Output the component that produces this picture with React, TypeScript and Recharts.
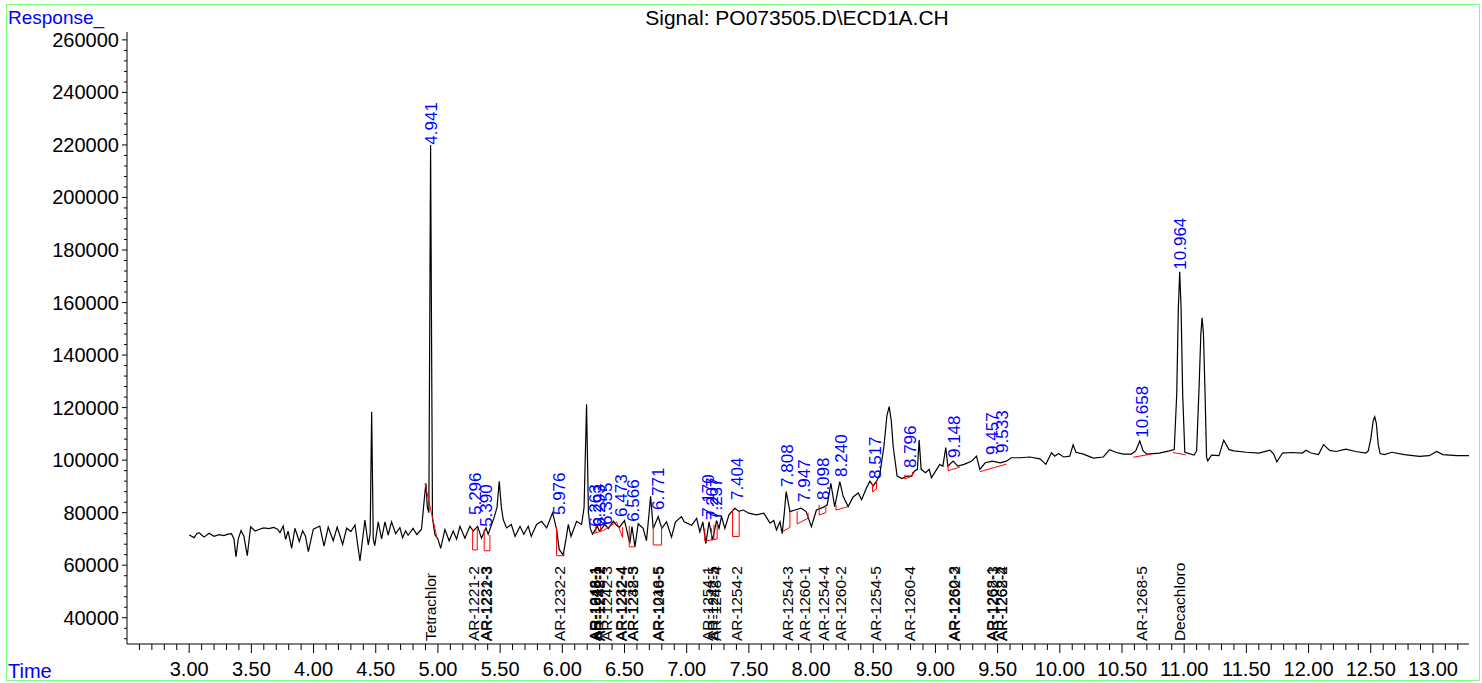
import React from "react";
import { LineChart, Line, XAxis, YAxis, ReferenceDot } from "recharts";

// chromatogram trace, [time (min), response]
const trace: [number, number][] = [
  [3.0, 71500], [3.04, 70500], [3.06, 72000], [3.08, 72400], [3.1, 71500], [3.12, 70700],
  [3.16, 72200], [3.2, 71000], [3.24, 71600], [3.28, 71300], [3.31, 71800], [3.34, 72000],
  [3.36, 70000], [3.376, 63200], [3.395, 70000], [3.417, 73150], [3.44, 71000], [3.467, 63600],
  [3.494, 74650], [3.53, 73000], [3.57, 73800], [3.6, 74200], [3.64, 73900], [3.68, 74400],
  [3.71, 73700], [3.73, 72400], [3.756, 74950], [3.775, 69800], [3.795, 73000], [3.824, 66450],
  [3.85, 74050], [3.885, 69000], [3.912, 73100], [3.935, 71000], [3.958, 65150], [3.998, 73700],
  [4.05, 74900], [4.084, 67300], [4.118, 74500], [4.158, 69300], [4.19, 74500], [4.234, 67900],
  [4.266, 74100], [4.3, 72800], [4.333, 75300], [4.373, 61600], [4.413, 77200], [4.44, 67700],
  [4.455, 72000], [4.467, 118400], [4.48, 70000], [4.492, 67400], [4.52, 76500], [4.547, 70000],
  [4.574, 76500], [4.6, 71500], [4.627, 76500], [4.66, 72000], [4.694, 74300], [4.716, 70500],
  [4.74, 73100], [4.76, 71400], [4.8, 74000], [4.83, 71700], [4.868, 73700], [4.89, 85000],
  [4.903, 91200], [4.915, 82000], [4.927, 80000], [4.941, 220000], [4.956, 78000], [4.976, 71600],
  [5.0, 70000], [5.022, 66400], [5.056, 73600], [5.09, 69300], [5.123, 73000], [5.15, 69900],
  [5.177, 74800], [5.217, 70300], [5.257, 74800], [5.284, 73000], [5.319, 74800], [5.35, 70300],
  [5.386, 74200], [5.404, 71800], [5.45, 77900], [5.475, 82000], [5.493, 91900], [5.51, 82000],
  [5.525, 77400], [5.552, 74200], [5.59, 75500], [5.62, 71000], [5.66, 74800], [5.69, 71800],
  [5.726, 74800], [5.75, 71000], [5.793, 75500], [5.833, 76700], [5.874, 74200], [5.922, 80000],
  [5.954, 73600], [5.975, 66000], [6.007, 63900], [6.03, 70000], [6.048, 75500], [6.07, 71000],
  [6.115, 76700], [6.155, 75500], [6.175, 82000], [6.195, 121300], [6.21, 80000], [6.225, 74000],
  [6.243, 71800], [6.28, 74800], [6.3, 73000], [6.342, 75500], [6.37, 74000], [6.41, 76700],
  [6.44, 75000], [6.46, 74500], [6.5, 77000], [6.543, 68300], [6.56, 74700], [6.584, 67000],
  [6.61, 75800], [6.65, 74000], [6.677, 69300], [6.71, 86200], [6.731, 74000], [6.771, 78500],
  [6.8, 74000], [6.838, 76500], [6.878, 70700], [6.91, 76500], [6.958, 78500], [6.98, 76500],
  [7.04, 75200], [7.08, 77800], [7.106, 72700], [7.13, 76500], [7.154, 68200], [7.18, 76500],
  [7.208, 69500], [7.24, 77000], [7.26, 74000], [7.28, 78500], [7.307, 74000], [7.34, 79200],
  [7.387, 81700], [7.42, 80500], [7.454, 81000], [7.5, 79800], [7.56, 79200], [7.62, 79800],
  [7.67, 76000], [7.7, 77000], [7.722, 73400], [7.75, 76500], [7.768, 72000], [7.785, 80000],
  [7.8, 88000], [7.83, 80400], [7.87, 81000], [7.92, 81700], [7.96, 80400], [8.003, 74700],
  [8.043, 81000], [8.097, 82000], [8.13, 83000], [8.159, 91200], [8.19, 82300], [8.231, 91800],
  [8.258, 86200], [8.298, 82300], [8.338, 86000], [8.38, 87500], [8.406, 84900], [8.446, 89500],
  [8.473, 92000], [8.5, 90200], [8.527, 92000], [8.553, 94600], [8.586, 105300], [8.61, 117000],
  [8.628, 120400], [8.645, 115000], [8.66, 105300], [8.692, 93900], [8.73, 93000], [8.77, 93900],
  [8.808, 93900], [8.83, 95800], [8.855, 96500], [8.869, 107700], [8.885, 96500], [8.92, 95200],
  [8.95, 96500], [8.968, 93300], [9.01, 96500], [9.035, 98400], [9.06, 97700], [9.083, 104800],
  [9.1, 97700], [9.142, 99600], [9.18, 97700], [9.23, 98400], [9.29, 99600], [9.33, 101500],
  [9.357, 96500], [9.4, 99000], [9.46, 99600], [9.52, 99000], [9.57, 99600], [9.61, 100900],
  [9.68, 100900], [9.76, 101200], [9.84, 100500], [9.888, 98400], [9.933, 102800], [9.96, 101500],
  [9.99, 102500], [10.03, 101200], [10.08, 101500], [10.107, 105800], [10.13, 103000], [10.19, 102300],
  [10.27, 100800], [10.35, 101200], [10.4, 104000], [10.45, 103000], [10.51, 102300], [10.576, 102300],
  [10.61, 103500], [10.643, 107300], [10.67, 103500], [10.7, 102300], [10.8, 102700], [10.88, 103500],
  [10.92, 104000], [10.94, 125000], [10.953, 158000], [10.964, 171700], [10.975, 158000], [10.988, 125000],
  [11.005, 103000], [11.08, 101900], [11.1, 103500], [11.12, 128000], [11.134, 148000], [11.144, 154200],
  [11.155, 148000], [11.168, 125000], [11.18, 101000], [11.19, 99700], [11.22, 101900], [11.28, 101700],
  [11.318, 107600], [11.36, 104000], [11.4, 103500], [11.5, 103000], [11.6, 102700], [11.69, 103800],
  [11.72, 102300], [11.745, 99300], [11.79, 102700], [11.87, 102900], [11.95, 102700], [11.98, 103800],
  [12.02, 102700], [12.08, 102100], [12.12, 105900], [12.17, 103700], [12.22, 103300], [12.3, 104200],
  [12.38, 103300], [12.46, 102700], [12.48, 103500], [12.5, 108000], [12.52, 115000], [12.532, 116500],
  [12.545, 114000], [12.56, 106000], [12.575, 102500], [12.61, 102100], [12.67, 103000], [12.77, 102100],
  [12.89, 101400], [12.97, 101700], [13.03, 103300], [13.08, 102100], [13.19, 101700], [13.29, 101700],
];

// integration baselines (red)
const baselines: [number, number][][] = [
  [[4.896, 91000], [4.99, 70900]],
  [[5.279, 73400], [5.279, 65800], [5.316, 65800], [5.316, 74000]],
  [[5.372, 73500], [5.372, 65500], [5.418, 65500], [5.418, 71500]],
  [[5.954, 74600], [5.954, 63600], [6.013, 63600], [6.013, 64500]],
  [[6.244, 72000], [6.329, 73200], [6.437, 76500], [6.485, 70600], [6.485, 74500]],
  [[6.27, 72300], [6.27, 76100]],
  [[6.308, 72800], [6.308, 75800]],
  [[6.538, 75000], [6.538, 67000], [6.584, 67000]],
  [[6.731, 75300], [6.731, 67700], [6.798, 67700], [6.798, 75000]],
  [[7.146, 74000], [7.146, 69200], [7.245, 70000], [7.245, 76000]],
  [[7.2, 69600], [7.2, 74000]],
  [[7.219, 69800], [7.219, 75500]],
  [[7.369, 81000], [7.369, 70900], [7.422, 70900], [7.422, 80500]],
  [[7.771, 72800], [7.83, 74400], [7.83, 80400]],
  [[7.888, 80500], [7.888, 75700], [7.976, 77900], [7.976, 80000]],
  [[8.065, 83000], [8.065, 79100], [8.119, 80000], [8.119, 83000]],
  [[8.2, 83000], [8.2, 81000], [8.298, 82300]],
  [[8.494, 91000], [8.494, 87900], [8.526, 89000], [8.526, 92000]],
  [[8.754, 94500], [8.754, 92800], [8.815, 94000], [8.815, 95500]],
  [[9.102, 98500], [9.102, 96000], [9.196, 97300]],
  [[9.357, 95600], [9.571, 98500]],
  [[10.59, 101100], [10.736, 102300]],
  [[10.911, 102900], [11.013, 102000]],
];

// retention time labels (blue)
const rtTimes = [4.941, 5.296, 5.39, 5.976, 6.263, 6.293, 6.355, 6.473, 6.566, 6.771, 7.17, 7.207, 7.237,
  7.404, 7.808, 7.947, 8.098, 8.24, 8.517, 8.796, 9.148, 9.457, 9.533, 10.658, 10.964];
const rtHeights = [220100, 79100, 74600, 79100, 74600, 74600, 75300, 78400, 76500, 81000, 78400, 77200, 77200,
  84800, 89800, 84100, 84800, 93600, 92800, 97000, 100800, 102000, 102750, 108500, 172500];

// compound names along the bottom
const compoundNames = ["Tetrachlor", "AR-1221-2", "AR-1221-3", "AR-1232-3", "AR-1232-2", "AR-1248-1",
  "AR-1242-1", "AR-1016-1", "AR-1242-2", "AR-1248-2", "AR-1242-3", "AR-1232-4", "AR-1242-4", "AR-1232-5",
  "AR-1248-3", "AR-1016-5", "AR-1248-5", "AR-1254-1", "AR-1242-5", "AR-1248-4", "AR-1254-2", "AR-1254-3",
  "AR-1260-1", "AR-1254-4", "AR-1260-2", "AR-1254-5", "AR-1260-4", "AR-1260-3", "AR-1262-2", "AR-1268-1",
  "AR-1262-3", "AR-1268-2", "AR-1262-4", "AR-1268-5", "Decachloro"];
const compoundTimes = [4.94, 5.29, 5.385, 5.395, 5.975, 6.258, 6.262, 6.265, 6.292, 6.296, 6.355, 6.468,
  6.473, 6.562, 6.566, 6.768, 6.772, 7.168, 7.21, 7.235, 7.404, 7.808, 7.947, 8.098, 8.24, 8.517, 8.796,
  9.145, 9.15, 9.455, 9.46, 9.53, 9.535, 10.658, 10.964];

const xMajor = [3, 3.5, 4, 4.5, 5, 5.5, 6, 6.5, 7, 7.5, 8, 8.5, 9, 9.5, 10, 10.5, 11, 11.5, 12, 12.5, 13];
const yMajor = [40000, 60000, 80000, 100000, 120000, 140000, 160000, 180000, 200000, 220000, 240000, 260000];

const xTicks: number[] = [];
for (let i = 26; i <= 132; i++) xTicks.push(i / 10);
const yTicks: number[] = [];
for (let v = 32000; v <= 260000; v += 4000) yTicks.push(v);

const FONT = "Arial, 'Liberation Sans', sans-serif";
const traceData = trace.map(([t, v]) => ({ t, v }));

const XTick = (props: any) => {
  const { x, y, payload } = props;
  const major = xMajor.some((m) => Math.abs(m - payload.value) < 1e-6);
  return (
    <g>
      <line x1={x} x2={x} y1={y} y2={y + (major ? 9 : 6)} stroke="#000" strokeWidth={1} />
      {major && (
        <text x={x} y={y + 32} textAnchor="middle" fontSize={20} fontFamily={FONT} fill="#000">
          {payload.value.toFixed(2)}
        </text>
      )}
    </g>
  );
};

const YTick = (props: any) => {
  const { x, y, payload } = props;
  const major = yMajor.includes(payload.value);
  return (
    <g>
      <line x1={x - (major ? 5 : 3)} x2={x} y1={y} y2={y} stroke="#000" strokeWidth={1} />
      {major && (
        <text x={x - 8} y={y + 7} textAnchor="end" fontSize={20} fontFamily={FONT} fill="#000">
          {payload.value}
        </text>
      )}
    </g>
  );
};

const vText = (label: string, color: string, size: number) => (p: any) => (
  <text
    x={p.cx}
    y={p.cy}
    dy="0.35em"
    transform={`rotate(-90 ${p.cx} ${p.cy})`}
    textAnchor="start"
    fontSize={size}
    fontFamily={FONT}
    fill={color}
  >
    {label}
  </text>
);

export default function App() {
  return (
    <div style={{ position: "absolute", left: 0, top: 0, width: 1482, height: 683, background: "#fff" }}>
      <LineChart width={1482} height={683} data={traceData} margin={{ top: 32, right: 13, bottom: 9, left: 67 }}>
        <XAxis
          dataKey="t"
          type="number"
          domain={[2.5, 13.29]}
          allowDataOverflow
          ticks={xTicks}
          interval={0}
          tick={<XTick />}
          tickSize={0}
          tickMargin={0}
          tickLine={false}
          axisLine={{ stroke: "#000" }}
          height={30}
        />
        <YAxis
          type="number"
          domain={[30000, 263000]}
          allowDataOverflow
          ticks={yTicks}
          interval={0}
          tick={<YTick />}
          tickSize={0}
          tickMargin={0}
          tickLine={false}
          axisLine={{ stroke: "#000" }}
          width={60}
        />
        <Line dataKey="v" type="linear" stroke="#000" strokeWidth={1.2} dot={false} isAnimationActive={false} />
        {baselines.map((seg, i) => (
          <Line
            key={"b" + i}
            data={seg.map(([t, v]) => ({ t, v }))}
            dataKey="v"
            type="linear"
            stroke="#ff0000"
            strokeWidth={1}
            dot={false}
            isAnimationActive={false}
          />
        ))}
        {rtTimes.map((t, i) => (
          <ReferenceDot
            key={"rt" + i}
            x={t}
            y={rtHeights[i]}
            r={0}
            ifOverflow="visible"
            shape={vText(t.toFixed(3), "#0000ff", 17)}
          />
        ))}
        {compoundTimes.map((t, i) => (
          <ReferenceDot
            key={"c" + i}
            x={t}
            y={31100}
            r={0}
            ifOverflow="visible"
            shape={vText(compoundNames[i], "#000", 15.5)}
          />
        ))}
      </LineChart>
      <svg
        width={1482}
        height={683}
        style={{ position: "absolute", left: 0, top: 0, pointerEvents: "none" }}
      >
        <rect x={6.5} y={4.5} width={1473} height={676} fill="none" stroke="#80ff80" strokeWidth={1} />
        <text x={8} y={24} fontSize={19} fontFamily={FONT} fill="#0000ff">Response_</text>
        <text x={797} y={25} fontSize={21} fontFamily={FONT} fill="#000" textAnchor="middle">
          Signal: PO073505.D\ECD1A.CH
        </text>
        <text x={8} y={678} fontSize={20} fontFamily={FONT} fill="#0000ff">Time</text>
      </svg>
    </div>
  );
}
